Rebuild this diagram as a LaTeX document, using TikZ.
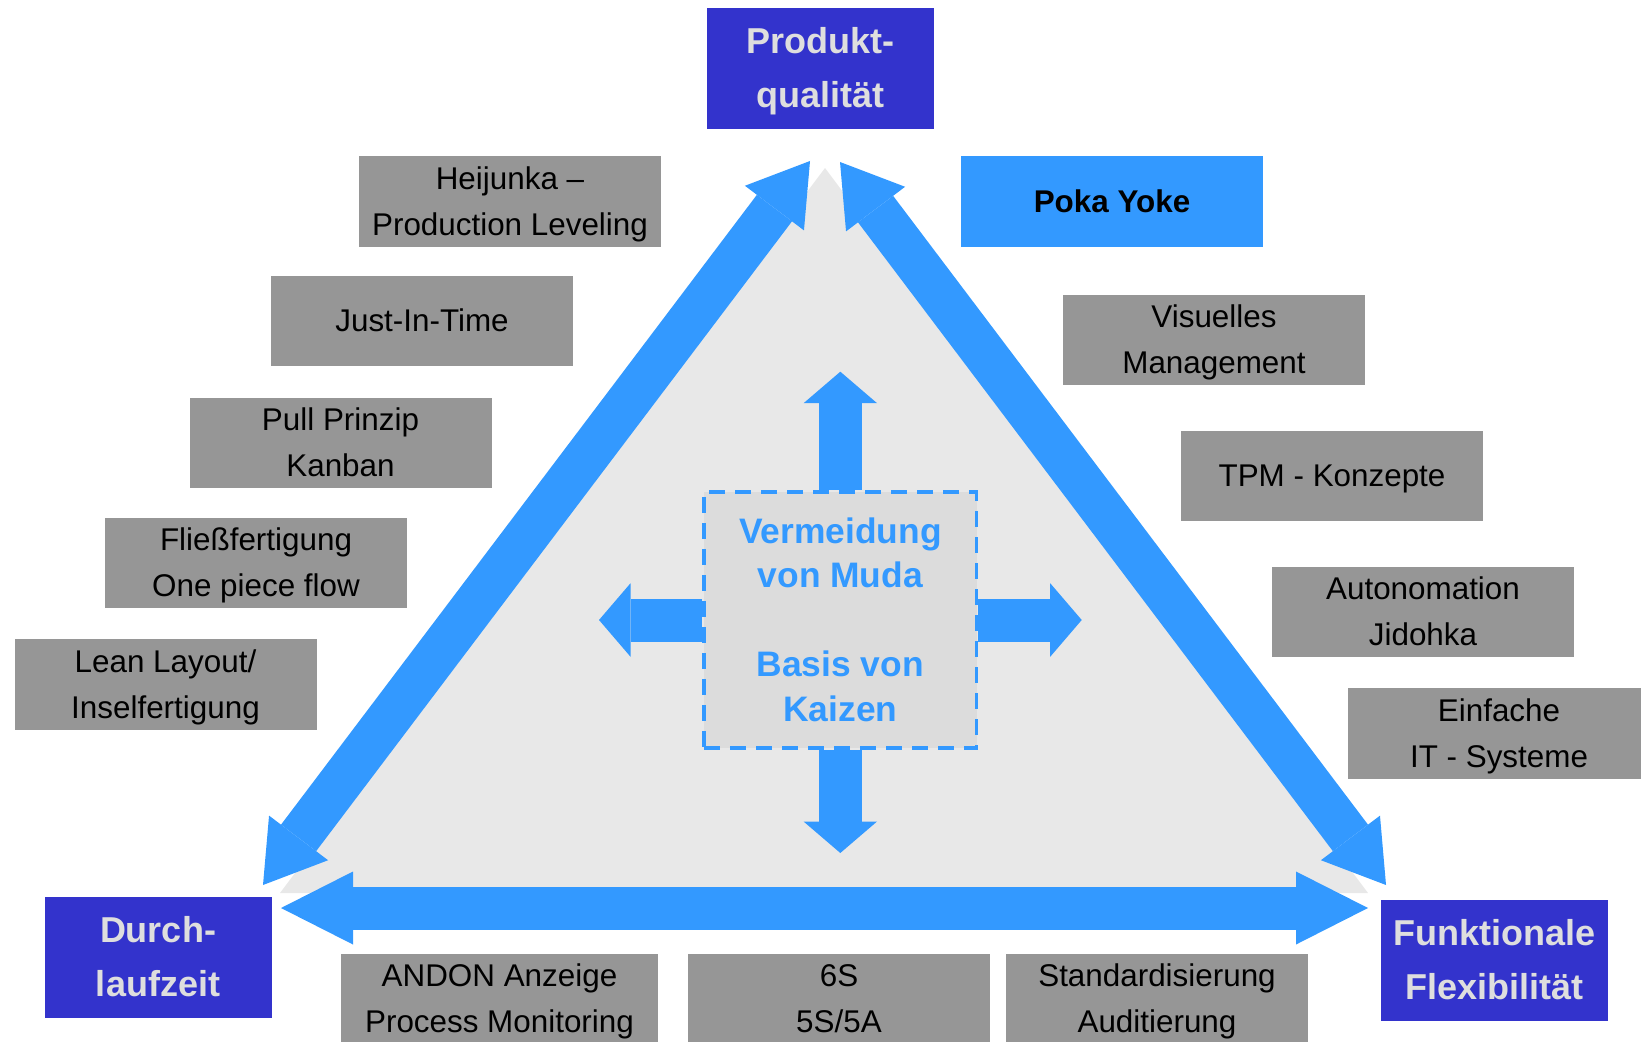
\documentclass[tikz,border=0pt]{standalone}
\usepackage{fontspec}
\setmainfont{Liberation Sans}
\usepackage{xcolor}
\usepackage{tikz}
\usetikzlibrary{arrows.meta}
\definecolor{trianglegray}{RGB}{232,232,232}
\definecolor{mudagray}{RGB}{220,220,220}
\definecolor{boxgray}{RGB}{150,150,150}
\definecolor{cornerblue}{RGB}{51,51,204}
\definecolor{cornertext}{RGB}{222,222,222}
\definecolor{arrowblue}{RGB}{51,153,255}
\newcommand{\ls}{\rule[-0.212em]{0pt}{1.117em}}

\begin{document}
\begin{tikzpicture}[x=0.5pt, y=-0.5pt,
            graybox/.style={fill=boxgray, minimum width=151pt, minimum height=45.25pt, inner sep=0pt, align=center, font=\fontsize{15.7}{23}\selectfont},
            cornerbox/.style={fill=cornerblue, text=cornertext, minimum width=113.5pt, minimum height=60.5pt, inner sep=0pt, align=center, font=\fontsize{18}{27}\selectfont\bfseries},
            mudabox/.style={fill=mudagray, draw=arrowblue, line width=1.8pt, dash pattern=on 8pt off 5pt, minimum width=136.3pt, minimum height=128pt, inner sep=0pt, align=center, text=arrowblue, font=\fontsize{17.7}{22.25}\selectfont\bfseries},
            sidearrow/.style={draw=arrowblue, line width=22pt, >={Triangle[length=29.5pt, width=37pt, line width=0pt]}, <->},
            basearrow/.style={draw=arrowblue, line width=21.5pt, >={Triangle[length=36pt, width=36.5pt, line width=0pt]}, <->},
            mudaarrow/.style={draw=arrowblue, line width=21.5pt, >={Triangle[length=15.75pt, width=36.75pt, line width=0pt]}, ->}]
            \useasboundingbox (0,0) rectangle (1641,1042);
            \coordinate (triTop) at (825,168);
            \coordinate (triLeft) at (280,893);
            \coordinate (triRight) at (1368,893);
            \fill[trianglegray] (triTop) -- (triLeft) -- (triRight) -- cycle;
            \coordinate (apexL) at (810,161);
            \coordinate (apexR) at (840,162);
            \coordinate (cornerL) at (263,885);
            \coordinate (cornerR) at (1386,885);
            \coordinate (baseL) at (281,908);
            \coordinate (baseR) at (1368,908);
            \draw[sidearrow] (apexL) -- (cornerL);
            \draw[sidearrow] (apexR) -- (cornerR);
            \draw[basearrow] (baseL) -- (baseR);
            \node[mudabox] (muda) at (840.3,620) {\ls Vermeidung\\von Muda\\[22.25pt]Basis von\\Kaizen\ls};
            \coordinate (upTip) at (840.3,371.7);
            \coordinate (downTip) at (840.3,853);
            \coordinate (leftTip) at (599,620);
            \coordinate (rightTip) at (1081.7,620);
            \draw[mudaarrow] (muda.north) -- (upTip);
            \draw[mudaarrow] (muda.south) -- (downTip);
            \draw[mudaarrow] (muda.west) -- (leftTip);
            \draw[mudaarrow] (muda.east) -- (rightTip);
            \node[cornerbox] (quality) at (820.5,68.5) {\ls Produkt-\\qualität\ls};
            \node[cornerbox] (leadtime) at (158,957) {\ls Durch-\\laufzeit\ls};
            \node[cornerbox] (flexibility) at (1494.5,960.5) {\ls Funktionale\\Flexibilität\ls};
            \node[graybox] (heijunka) at (510,201.5) {\ls Heijunka –\\Production Leveling\ls};
            \node[graybox, fill=arrowblue, font=\fontsize{15.7}{23}\selectfont\bfseries] (pokayoke) at (1112,201.5) {\ls Poka Yoke};
            \node[graybox] (jit) at (422,321) {\ls Just-In-Time};
            \node[graybox] (visual) at (1214,340) {\ls Visuelles\\Management\ls};
            \node[graybox] (pull) at (340.5,443) {\ls Pull Prinzip\\Kanban\ls};
            \node[graybox] (tpm) at (1332,476) {\ls TPM - Konzepte};
            \node[graybox] (flow) at (256,563) {\ls Fließfertigung\\One piece flow\ls};
            \node[graybox] (jidoka) at (1423,612) {\ls Autonomation\\Jidohka\ls};
            \node[graybox] (layout) at (165.5,684.5) {\ls Lean Layout/\\Inselfertigung\ls};
            \node[graybox] (itsys) at (1499,733.5) {\ls Einfache\\IT - Systeme\ls};
            \node[graybox, minimum width=158.5pt] (andon) at (499.5,999) {\ls ANDON Anzeige\\Process Monitoring\ls};
            \node[graybox] (sixs) at (839,999) {\ls 6S\\5S/5A\ls};
            \node[graybox] (standard) at (1157,999) {\ls Standardisierung\\Auditierung\ls};
\end{tikzpicture}
\end{document}
